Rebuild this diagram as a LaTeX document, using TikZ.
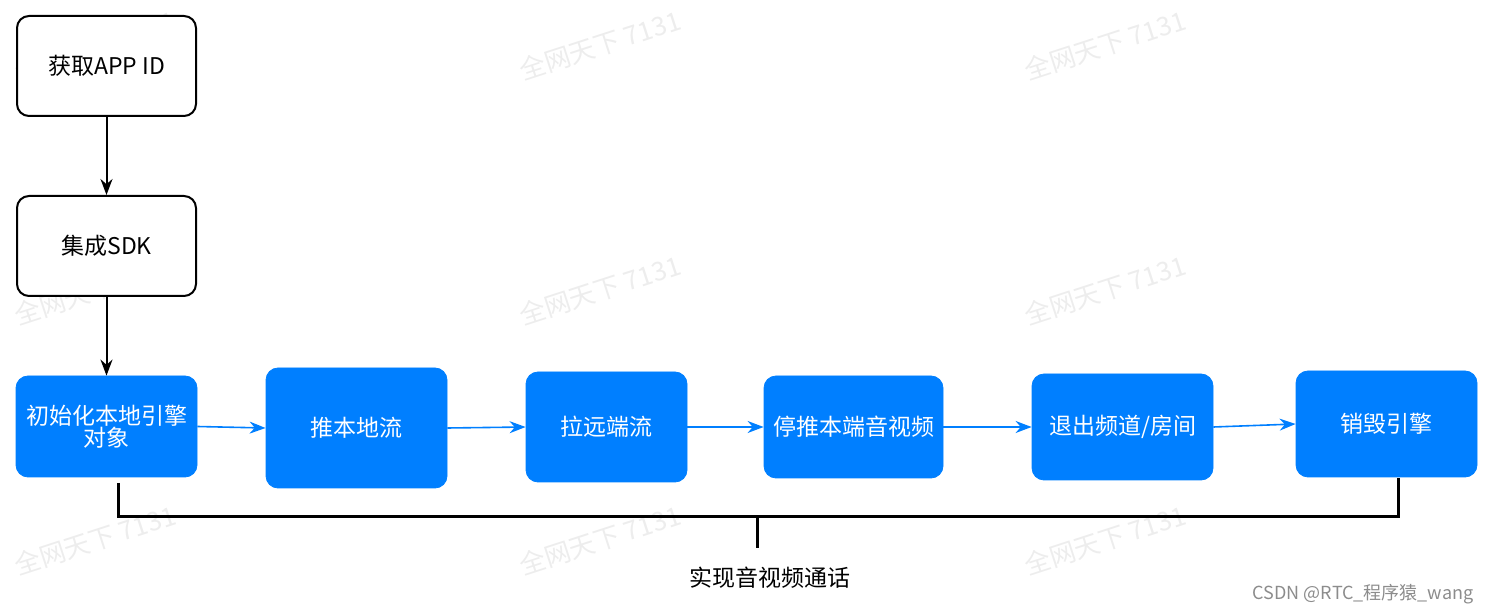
\documentclass[tikz,border=0pt]{standalone}
\usepackage{fontspec}
\setmainfont{Noto Sans CJK SC}
\usetikzlibrary{arrows.meta}
\definecolor{bl}{RGB}{0,127,255}
\tikzset{
 wbox/.style={draw=black,line width=1pt,rounded corners=6pt,fill=white,font=\fontsize{11.5}{13}\selectfont,align=center},
 bbox/.style={draw=bl,fill=bl,rounded corners=6pt,text=white,font=\fontsize{11.5}{13}\selectfont,align=center},
 blarr/.style={draw=bl,line width=0.8pt,-{Stealth[length=8pt,width=6pt]}},
 bkarr/.style={draw=black,line width=1pt,-{Stealth[length=8pt,width=6pt]}},
 wm/.style={text=black!7,rotate=18,font=\fontsize{13}{15}\selectfont}
}
\begin{document}
\begin{tikzpicture}[x=0.5pt,y=-0.5pt]
\useasboundingbox (0,0) rectangle (1494,614);
\foreach \x in {95,600,1105}{\foreach \y in {45,290,540}{\node[wm] at (\x,\y) {全网天下 7131};}}
\node[wbox,minimum width=89.5pt,minimum height=50pt] (a) at (106.5,66) {获取APP ID};
\node[wbox,minimum width=89.5pt,minimum height=50pt] (b) at (106.5,246) {集成SDK};
\node[bbox,minimum width=90.5pt,minimum height=50.5pt] (c) at (106.5,426.5) {初始化本地引擎\\[-2pt]对象};
\node[bbox,minimum width=90.5pt,minimum height=60pt] (d) at (356.5,428) {推本地流};
\node[bbox,minimum width=80.5pt,minimum height=55pt] (e) at (606.5,427) {拉远端流};
\node[bbox,minimum width=89.5pt,minimum height=51pt] (f) at (853.5,427) {停推本端音视频};
\node[bbox,minimum width=90.5pt,minimum height=53pt] (g) at (1122.5,427) {退出频道/房间};
\node[bbox,minimum width=90.5pt,minimum height=53pt] (h) at (1386.5,424) {销毁引擎};
\draw[bkarr] (a) -- (b);
\draw[bkarr] (b) -- (c);
\draw[blarr] (c.east) -- (d.west);
\draw[blarr] (d.east) -- (e.west);
\draw[blarr] (e.east) -- (f.west);
\draw[blarr] (f.east) -- (g.west);
\draw[blarr] (g.east) -- (h.west);
\coordinate (m) at (757,516);
\draw[line width=1.5pt] (118,483) -- (118,516) -- (1398,516) -- (1398,478);
\node[font=\fontsize{11.5}{13}\selectfont] (t) at (770,578) {实现音视频通话};
\draw[line width=1.5pt] (m) -- (757,548);
\node[text=black!45,font=\fontsize{9}{11}\selectfont] (w) at (1363,594) {CSDN @RTC\_程序猿\_wang};
\end{tikzpicture}
\end{document}
